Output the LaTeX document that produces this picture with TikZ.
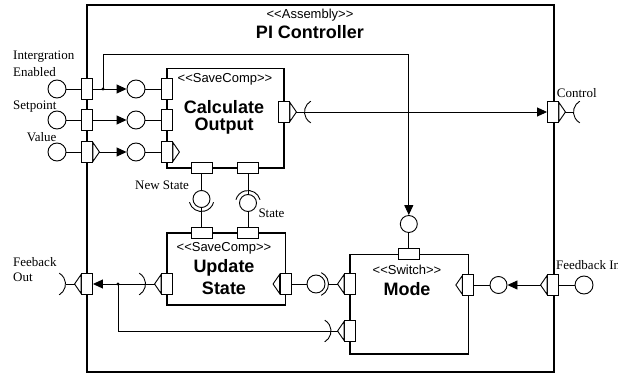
\documentclass[tikz,border=0pt]{standalone}
\usepackage{fontspec}
\setmainfont{Liberation Serif}
\newfontfamily\uisans{Liberation Sans}
\usetikzlibrary{arrows.meta}
\newcommand\stereo[1]{<\kern0pt<#1>\kern0pt>}
\tikzset{
  x=1pt,y=1pt,
  conn/.style={line width=0.9pt},
  compbox/.style={draw,line width=1.6pt},
  vport/.style={draw,fill=white,rectangle,minimum width=11pt,minimum height=21pt,inner sep=0pt,line width=0.9pt},
  hport/.style={vport,minimum width=21pt,minimum height=11pt},
  ball/.style={draw,fill=white,circle,minimum size=18pt,inner sep=0pt,line width=0.9pt},
  arr/.style={-{Triangle[length=10pt,width=9pt]}},
  lbl/.style={font=\fontsize{13}{15}\selectfont,inner sep=0pt,anchor=west},
  stereotxt/.style={font=\uisans\fontsize{13}{15}\selectfont,inner sep=0pt},
  bigname/.style={font=\uisans\bfseries\fontsize{18}{21}\selectfont,inner sep=0pt},
}
\newcommand\rtri[1]{\draw[conn,fill=white] ([yshift=-1.5pt]#1.north east) -- ([xshift=6.5pt]#1.east) -- ([yshift=1.5pt]#1.south east) -- cycle;}
\newcommand\ltri[1]{\draw[conn,fill=white] ([yshift=-1.5pt]#1.north west) -- ([xshift=-6.5pt]#1.west) -- ([yshift=1.5pt]#1.south west) -- cycle;}
\newcommand\sockarc[3]{\draw[conn] ([shift={(#2:12.5)}]#1) arc[start angle=#2,end angle=#3,radius=12.5pt];}
\begin{document}
\begin{tikzpicture}
\useasboundingbox (0,0) rectangle (618,-374);
% boxes
\draw[compbox,line width=1.4pt] (87,-5) rectangle (554,-372);
\draw[compbox] (167,-68.5) rectangle (284,-168);
\draw[compbox] (167,-232.7) rectangle (285.5,-305);
\draw[compbox] (350,-254.3) rectangle (468.3,-354);
% titles
\node[stereotxt] (tA) at (310,-15) {\stereo{Assembly}};
\node[bigname] (tB) at (310,-32) {PI Controller};
\node[stereotxt] (cA) at (225,-79) {\stereo{SaveComp}};
\node[bigname] (cB) at (224,-106.7) {Calculate};
\node[bigname] (cC) at (224,-126) {Output};
\node[stereotxt] (uA) at (224,-248.3) {\stereo{SaveComp}};
\node[bigname] (uB) at (224,-268.3) {Update};
\node[bigname] (uC) at (224,-288.3) {State};
\node[stereotxt] (mA) at (407,-270) {\stereo{Switch}};
\node[bigname] (mB) at (407,-289) {Mode};
% ports
\node[vport] (op1) at (87,-89) {};
\node[vport] (op2) at (87,-120) {};
\node[vport] (op3) at (87,-152) {};
\node[vport] (cp1) at (167,-89) {};
\node[vport] (cp2) at (167,-120) {};
\node[vport] (cp3) at (167,-152) {};
\node[vport] (cpo) at (284,-112) {};
\node[vport] (ctl) at (553,-112) {};
\node[hport] (cb1) at (201.5,-168) {};
\node[hport] (cb2) at (248,-168) {};
\node[hport] (ut1) at (201.5,-232.7) {};
\node[hport] (ut2) at (248,-232.7) {};
\node[vport] (ul) at (167,-284) {};
\node[vport] (ur) at (285.5,-284) {};
\node[vport] (fo) at (87,-284) {};
\node[hport] (mt) at (408.8,-254.3) {};
\node[vport] (ml1) at (350,-284) {};
\node[vport] (ml2) at (350,-331) {};
\node[vport] (mr) at (468.3,-285) {};
\node[vport] (fi) at (553,-285) {};
% balls
\node[ball] (ob1) at (57,-89) {};
\node[ball] (ob2) at (57,-120) {};
\node[ball] (ob3) at (57,-152) {};
\node[ball] (ib1) at (136,-89) {};
\node[ball] (ib2) at (136,-120) {};
\node[ball] (ib3) at (136,-152) {};
\node[ball,minimum size=17pt] (ns) at (201.5,-199) {};
\node[ball,minimum size=17pt] (st) at (248,-203) {};
\node[ball,minimum size=17pt] (mtb) at (408.8,-224) {};
\node[ball] (mb) at (316,-284) {};
\node[ball,minimum size=17pt] (mrb) at (498.5,-285) {};
\node[ball] (fib) at (584,-285) {};
% socket centres
\coordinate (sCO) at (317,-112);
\coordinate (sCtl) at (586,-112);
\coordinate (sUL) at (133,-284);
\coordinate (sFO) at (53,-284);
\coordinate (sLow) at (318.5,-331);
\sockarc{sCO}{120}{240}
\sockarc{sCtl}{120}{240}
\sockarc{ns.center}{195}{345}
\sockarc{st.center}{15}{165}
\sockarc{sUL}{-60}{60}
\sockarc{sFO}{-60}{60}
\sockarc{mb.center}{-65}{65}
\sockarc{sLow}{-60}{60}
% triangles
\rtri{op3}
\rtri{cp3}
\rtri{cpo}
\rtri{ctl}
\ltri{ul}
\ltri{ur}
\ltri{fo}
\ltri{ml1}
\ltri{ml2}
\ltri{mr}
\ltri{fi}
% connectors
\draw[conn] (ob1.east) -- (op1.west);
\draw[conn] (ob2.east) -- (op2.west);
\draw[conn] (ob3.east) -- (op3.west);
\draw[conn,arr] (op1.east) -- (ib1.west);
\draw[conn,arr] (op2.east) -- (ib2.west);
\draw[conn,arr] ([xshift=6.5pt]op3.east) -- (ib3.west);
\draw[conn] (ib1.east) -- (cp1.west);
\draw[conn] (ib2.east) -- (cp2.west);
\draw[conn] (ib3.east) -- (cp3.west);
\coordinate (j1) at (103,-89);
\fill (j1) circle (1.7pt);
\draw[conn,arr] (j1) -- ++(0,35) -| (mtb.north);
\draw[conn] (mtb.south) -- (mt.north);
\draw[conn] ([xshift=6.5pt]cpo.east) -- ([xshift=-12.5pt]sCO);
\draw[conn,arr] ([xshift=-12.5pt]sCO) -- (ctl.west);
\draw[conn] ([xshift=6.5pt]ctl.east) -- ([xshift=-12.5pt]sCtl);
\draw[conn] (cb1.south) -- (ns.north);
\draw[conn] (ns.south) -- (ut1.north);
\draw[conn] (cb2.south) -- (st.north);
\draw[conn] (st.south) -- (ut2.north);
\draw[conn] ([xshift=12.5pt]sUL) -- ([xshift=-6.5pt]ul.west);
\draw[conn,arr] ([xshift=12.5pt]sUL) -- (fo.east);
\draw[conn] ([xshift=-6.5pt]fo.west) -- ([xshift=12.5pt]sFO);
\coordinate (j2) at (118,-284);
\fill (j2) circle (1.7pt);
\draw[conn] (j2) |- ([xshift=12.5pt]sLow);
\draw[conn] ([xshift=12.5pt]sLow) -- ([xshift=-6.5pt]ml2.west);
\draw[conn] (ur.east) -- (mb.west);
\draw[conn] ([xshift=12.5pt]mb.center) -- ([xshift=-6.5pt]ml1.west);
\draw[conn] (mr.east) -- (mrb.west);
\draw[conn,arr] ([xshift=-6.5pt]fi.west) -- (mrb.east);
\draw[conn] (fi.east) -- (fib.west);
% labels
\node[lbl] (l1) at (13,-57) {Intergration};
\node[lbl] (l2) at (13,-72) {Enabled};
\node[lbl] (l3) at (13,-107) {Setpoint};
\node[lbl] (l4) at (26.7,-137) {Value};
\node[lbl] (l5) at (556.7,-93) {Control};
\node[lbl] (l6) at (135,-185.7) {New State};
\node[lbl] (l7) at (258.3,-213) {State};
\node[lbl] (l8) at (13,-261.7) {Feeback};
\node[lbl] (l9) at (13,-277.7) {Out};
\node[lbl] (l10) at (556,-265) {Feedback In};
\end{tikzpicture}
\end{document}
